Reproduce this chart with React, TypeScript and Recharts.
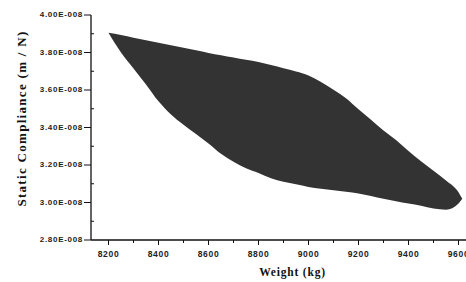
import { ComposedChart, Area, XAxis, YAxis } from "recharts";

// weight in kg, compliance in units of 1E-008 m/N
const weightKg = [
  8200, 8250, 8300, 8350, 8400, 8450, 8500, 8550, 8600, 8650, 8700, 8750,
  8800, 8850, 8900, 8950, 9000, 9050, 9100, 9150, 9200, 9250, 9300, 9350,
  9400, 9450, 9500, 9550, 9600, 9615,
];
const upperCompliance = [
  3.905, 3.893, 3.879, 3.866, 3.852, 3.839, 3.825, 3.812, 3.798, 3.786, 3.774,
  3.762, 3.75, 3.733, 3.716, 3.699, 3.678, 3.643, 3.602, 3.556, 3.497, 3.441,
  3.384, 3.333, 3.275, 3.22, 3.17, 3.118, 3.055, 3.02,
];
const lowerCompliance = [
  3.905, 3.8, 3.715, 3.63, 3.54, 3.47, 3.415, 3.365, 3.315, 3.26, 3.218, 3.183,
  3.158, 3.13, 3.111, 3.097, 3.083, 3.073, 3.065, 3.057, 3.048, 3.035, 3.02,
  3.007, 2.995, 2.983, 2.968, 2.962, 2.995, 3.02,
];

const xMajorTicks = [8200, 8400, 8600, 8800, 9000, 9200, 9400, 9600];
const xMinorTicks = [8300, 8500, 8700, 8900, 9100, 9300, 9500];
const yMajorTicks = [2.8, 3.0, 3.2, 3.4, 3.6, 3.8, 4.0];
const yMinorTicks = [2.9, 3.1, 3.3, 3.5, 3.7, 3.9];

const data = weightKg.map((w, i) => ({
  weight: w,
  band: [lowerCompliance[i], upperCompliance[i]],
}));

const isMajor = (list: number[], v: number) =>
  list.some((m) => Math.abs(m - v) < 1e-6);

const tickFont = "Liberation Sans, Arial, sans-serif";
const titleFont = "Liberation Serif, Times New Roman, serif";

const XTick = (props: any) => {
  const { x, y, payload } = props;
  const major = isMajor(xMajorTicks, payload.value);
  return (
    <g>
      <line x1={x} x2={x} y1={y} y2={y + (major ? 5 : 3)} stroke="#111" strokeWidth={1} />
      {major && (
        <text
          x={x}
          y={y + 17}
          textAnchor="middle"
          fontSize={8.5}
          fontWeight="bold"
          letterSpacing={0.7}
          fontFamily={tickFont}
          fill="#222"
        >
          {payload.value}
        </text>
      )}
    </g>
  );
};

const YTick = (props: any) => {
  const { x, y, payload } = props;
  const major = isMajor(yMajorTicks, payload.value);
  return (
    <g>
      <line x1={major ? x - 7 : x} x2={major ? x : x + 3} y1={y} y2={y} stroke="#111" strokeWidth={1} />
      {major && (
        <text
          x={x - 8}
          y={y + 2}
          textAnchor="end"
          fontSize={8}
          fontWeight="bold"
          letterSpacing={0.7}
          fontFamily={tickFont}
          fill="#222"
        >
          {payload.value.toFixed(2) + "E-008"}
        </text>
      )}
    </g>
  );
};

export default function App() {
  return (
    <div
      style={{
        position: "absolute",
        left: 0,
        top: 0,
        width: 466,
        height: 282,
        overflow: "hidden",
        background: "#fff",
      }}
    >
      <ComposedChart
        width={480}
        height={282}
        data={data}
        margin={{ top: 15, right: 14, left: 0, bottom: 0 }}
      >
        <XAxis
          dataKey="weight"
          type="number"
          domain={[8130, 9630]}
          allowDataOverflow
          ticks={[...xMajorTicks, ...xMinorTicks].sort((a, b) => a - b)}
          interval={0}
          tick={<XTick />}
          tickLine={false}
          tickSize={0}
          tickMargin={0}
          height={42}
          axisLine={{ stroke: "#111", strokeWidth: 1.3 }}
          label={{
            content: (p: any) => {
              const vb = p.viewBox;
              return (
                <text
                  x={vb.x + vb.width / 2 + 14}
                  y={vb.y + 36}
                  textAnchor="middle"
                  fontFamily={titleFont}
                  fontWeight="bold"
                  fontSize={11.5}
                  letterSpacing={0.8}
                  fill="#111"
                >
                  Weight (kg)
                </text>
              );
            },
          }}
        />
        <YAxis
          type="number"
          domain={[2.8, 4.0]}
          allowDataOverflow
          ticks={[...yMajorTicks, ...yMinorTicks].sort((a, b) => a - b)}
          interval={0}
          tick={<YTick />}
          tickLine={false}
          tickSize={0}
          tickMargin={0}
          width={91}
          axisLine={{ stroke: "#111", strokeWidth: 1.3 }}
          label={{
            content: (p: any) => {
              const vb = p.viewBox;
              const cx = 23;
              const cy = vb.y + vb.height / 2 - 9;
              return (
                <text
                  x={cx}
                  y={cy}
                  transform={`rotate(-90 ${cx} ${cy})`}
                  textAnchor="middle"
                  dominantBaseline="middle"
                  fontFamily={titleFont}
                  fontSize={13}
                  fontWeight={600}
                  letterSpacing={1.3}
                  fill="#111"
                >
                  Static Compliance (m / N)
                </text>
              );
            },
          }}
        />
        <Area
          type="monotone"
          dataKey="band"
          stroke="none"
          fill="#333333"
          fillOpacity={1}
          isAnimationActive={false}
          dot={false}
          activeDot={false}
        />
      </ComposedChart>
    </div>
  );
}
